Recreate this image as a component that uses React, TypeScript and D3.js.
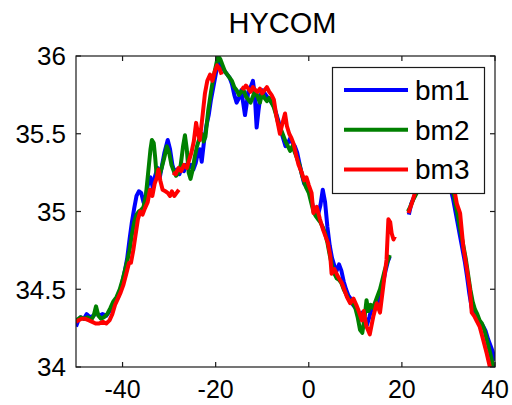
import React, { useEffect, useRef } from 'react';
import * as d3 from 'd3';

// longitude / value pairs, null = break in the track
const bm1 = [
  [-50, 34.26], [-49.5, 34.30], [-49, 34.32], [-48.3, 34.31], [-47.7, 34.34], [-47, 34.32], [-46.3, 34.33],
  [-45.6, 34.35], [-45, 34.33], [-44.3, 34.34], [-43.5, 34.33], [-43, 34.35], [-42.3, 34.38], [-41.5, 34.42],
  [-40.8, 34.46], [-40, 34.55], [-39.5, 34.62], [-39, 34.70], [-38.5, 34.82], [-38, 34.93], [-37.5, 35.02],
  [-37, 35.10], [-36.5, 35.13], [-36, 35.12], [-35.5, 35.06], [-35, 35.10], [-34.5, 35.18], [-34, 35.22],
  [-33.5, 35.15], [-33, 35.23], [-32.5, 35.28], [-32, 35.22], [-31.5, 35.30], [-31, 35.38], [-30.3, 35.46],
  [-29.8, 35.40], [-29.3, 35.30], [-28.8, 35.25], [-28.3, 35.27], [-27.8, 35.24], [-27.3, 35.28], [-26.8, 35.26],
  [-26.3, 35.30], [-25.8, 35.28], [-25.3, 35.30], [-24.8, 35.27], [-24.3, 35.31], [-23.8, 35.38], [-23.4, 35.40],
  [-23, 35.32], [-22.5, 35.45], [-22, 35.55], [-21.5, 35.62], [-21, 35.72], [-20.5, 35.80], [-20, 35.88],
  [-19.5, 35.96], [-19, 35.95], [-18.5, 35.92], [-18, 35.90], [-17.5, 35.88], [-17, 35.86], [-16.5, 35.82],
  [-16, 35.75], [-15.5, 35.70], [-15, 35.73], [-14.5, 35.78], [-14, 35.68], [-13.7, 35.62], [-13.3, 35.70],
  [-13, 35.77], [-12.5, 35.80], [-12, 35.84], [-11.6, 35.75], [-11.2, 35.54], [-10.8, 35.65], [-10.4, 35.74],
  [-10, 35.78], [-9.5, 35.76], [-9, 35.74], [-8.5, 35.72], [-8, 35.70], [-7.5, 35.68], [-7, 35.63],
  [-6.5, 35.58], [-6, 35.52], [-5.5, 35.47], [-5, 35.42], [-4.5, 35.44], [-4, 35.47], [-3.5, 35.44],
  [-3, 35.42], [-2.5, 35.38], [-2, 35.31], [-1.5, 35.24], [-1, 35.18], [-0.5, 35.16], [0, 35.14],
  [0.5, 35.08], [1, 35.02], [1.5, 35.00], [2, 34.98], [2.5, 35.04], [3, 35.14], [3.5, 35.06], [4, 34.90],
  [4.5, 34.78], [5, 34.70], [5.5, 34.65], [6, 34.62], [6.5, 34.66], [7, 34.62], [7.5, 34.55], [8, 34.50],
  [8.5, 34.46], [9, 34.44], [9.5, 34.40], [10, 34.38], [10.5, 34.36], [11, 34.32], [11.5, 34.35], [12, 34.30],
  [12.5, 34.27], [13, 34.32], [13.5, 34.38], [14, 34.36], [14.5, 34.40], [15, 34.42], [15.5, 34.47],
  [16, 34.55], [16.5, 34.62], [17, 34.68], [17.4, 34.71], null,
  [21.5, 34.98], [22, 35.05], [23, 35.12], [24.5, 35.18], [26, 35.25], [28, 35.28], [30, 35.2], [31, 35.08],
  [31.5, 35.0], [32, 34.92], [32.5, 34.84], [33, 34.76], [33.5, 34.68], [34, 34.58], [34.5, 34.47],
  [35, 34.38], [35.5, 34.34], [36, 34.32], [36.5, 34.30], [37, 34.28], [37.5, 34.26], [38, 34.23],
  [38.5, 34.18], [39, 34.14], [39.5, 34.10], [40, 34.04],
];

const bm2 = [
  [-50, 34.30], [-49.5, 34.31], [-49, 34.32], [-48.3, 34.31], [-47.5, 34.32], [-46.8, 34.30], [-46.2, 34.33],
  [-45.7, 34.39], [-45.2, 34.33], [-44.6, 34.31], [-44, 34.32], [-43.3, 34.34], [-42.6, 34.38], [-42, 34.42],
  [-41.3, 34.45], [-40.6, 34.50], [-40, 34.56], [-39.5, 34.62], [-39, 34.68], [-38.5, 34.75], [-38, 34.85],
  [-37.5, 34.93], [-37, 34.98], [-36.5, 35.00], [-36, 35.01], [-35.5, 35.03], [-35, 35.10], [-34.5, 35.25],
  [-34, 35.40], [-33.7, 35.46], [-33.3, 35.44], [-33, 35.35], [-32.7, 35.24], [-32.2, 35.22], [-31.6, 35.28],
  [-31, 35.35], [-30.5, 35.42], [-30, 35.38], [-29.5, 35.30], [-29, 35.26], [-28.5, 35.23], [-28, 35.25],
  [-27.5, 35.30], [-27, 35.42], [-26.6, 35.49], [-26.2, 35.40], [-25.8, 35.25], [-25.4, 35.21], [-25, 35.26],
  [-24.5, 35.35], [-24, 35.42], [-23.5, 35.47], [-23, 35.50], [-22.6, 35.45], [-22.2, 35.48], [-21.6, 35.65],
  [-21, 35.77], [-20.5, 35.86], [-20, 35.93], [-19.5, 36.0], [-19, 35.98], [-18.5, 35.94], [-18, 35.90],
  [-17.5, 35.88], [-17, 35.86], [-16.5, 35.84], [-16, 35.80], [-15.5, 35.78], [-15, 35.75], [-14.5, 35.77],
  [-14, 35.78], [-13.5, 35.74], [-13, 35.72], [-12.5, 35.70], [-12, 35.74], [-11.5, 35.78], [-11, 35.74],
  [-10.5, 35.70], [-10, 35.76], [-9.5, 35.73], [-9, 35.71], [-8.5, 35.73], [-8, 35.70], [-7.5, 35.67],
  [-7, 35.62], [-6.5, 35.56], [-6, 35.53], [-5.5, 35.49], [-5, 35.45], [-4.5, 35.42], [-4, 35.39],
  [-3.5, 35.42], [-3, 35.38], [-2.5, 35.34], [-2, 35.30], [-1.5, 35.24], [-1, 35.19], [-0.5, 35.15],
  [0, 35.12], [0.5, 35.06], [1, 35.00], [1.5, 34.97], [2, 34.95], [2.5, 34.93], [3, 34.90], [3.5, 34.86],
  [4, 34.80], [4.5, 34.72], [5, 34.65], [5.5, 34.60], [6, 34.57], [6.5, 34.56], [7, 34.54], [7.5, 34.50],
  [8, 34.47], [8.5, 34.44], [9, 34.42], [9.5, 34.41], [10, 34.38], [10.5, 34.32], [11, 34.24], [11.5, 34.22],
  [12, 34.32], [12.4, 34.43], [12.8, 34.36], [13.3, 34.40], [13.8, 34.38], [14.3, 34.42], [14.8, 34.46],
  [15.3, 34.50], [15.8, 34.56], [16.3, 34.62], [16.8, 34.67], [17.4, 34.72], null,
  [21.3, 35.0], [21.8, 35.03], [22.5, 35.08], [23.2, 35.12], [24.5, 35.2], [26, 35.24], [28, 35.3],
  [30, 35.22], [31.2, 35.10], [31.7, 35.02], [32.2, 34.94], [32.7, 34.86], [33.2, 34.78], [33.7, 34.70],
  [34.2, 34.60], [34.7, 34.50], [35.2, 34.42], [35.7, 34.37], [36.2, 34.34], [36.7, 34.30], [37.2, 34.28],
  [37.7, 34.24], [38.2, 34.18], [38.7, 34.12], [39.2, 34.06], [39.6, 34.0],
];

const bm3 = [
  [-50, 34.29], [-49.5, 34.30], [-48.8, 34.31], [-48, 34.31], [-47.2, 34.30], [-46.5, 34.29], [-45.8, 34.28],
  [-45, 34.28], [-44.2, 34.29], [-43.5, 34.28], [-42.8, 34.30], [-42.2, 34.34], [-41.6, 34.40], [-41, 34.44],
  [-40.4, 34.48], [-39.8, 34.53], [-39.2, 34.60], [-38.6, 34.67], [-38.2, 34.67], [-37.7, 34.75],
  [-37.2, 34.85], [-36.7, 34.95], [-36.2, 35.00], [-35.7, 34.98], [-35.2, 35.02], [-34.6, 35.06],
  [-34.1, 35.14], [-33.6, 35.10], [-33.1, 35.18], [-32.6, 35.22], [-32.3, 35.27], [-31.9, 35.20],
  [-31.4, 35.14], [-30.8, 35.13], [-30.3, 35.12], [-29.8, 35.10], [-29.4, 35.13], [-28.9, 35.10],
  [-28.4, 35.12], [-27.9, 35.14], null,
  [-29.2, 35.25], [-28.6, 35.24], [-28, 35.28], [-27.4, 35.26], [-26.8, 35.30], [-26.2, 35.28],
  [-25.7, 35.33], [-25.2, 35.38], [-24.7, 35.45], [-24.2, 35.57], [-23.8, 35.50], [-23.4, 35.46],
  [-22.8, 35.62], [-22.3, 35.76], [-21.8, 35.84], [-21.2, 35.88], [-20.7, 35.84], [-20.2, 35.90],
  [-19.7, 35.94], [-19.2, 35.92], [-18.7, 35.88], null,
  [-14.5, 35.80], [-14, 35.79], [-13.5, 35.81], [-13, 35.79], [-12.5, 35.77], [-12, 35.80], [-11.5, 35.78],
  [-11, 35.77], [-10.5, 35.79], [-10, 35.76], [-9.5, 35.78], [-9, 35.80], [-8.5, 35.77], [-8, 35.75],
  [-7.5, 35.72], [-7, 35.62], [-6.6, 35.56], [-6.2, 35.50], [-5.8, 35.55], [-5.1, 35.63], [-4.7, 35.55],
  [-4.2, 35.50], [-3.7, 35.47], [-3.2, 35.43], [-2.7, 35.36], [-2.2, 35.30], [-1.5, 35.25], [-1, 35.20],
  [-0.5, 35.22], [0, 35.17], [0.6, 35.12], [1, 34.99], [1.7, 35.03], [2.4, 34.95], [3.1, 34.88],
  [3.6, 34.84], [4.1, 34.80], [4.6, 34.72], [4.9, 34.60], [5.5, 34.63], [6.3, 34.58], [7.1, 34.54],
  [7.6, 34.50], [8.2, 34.45], [8.9, 34.41], [9.6, 34.44], [10.2, 34.40], [10.6, 34.37], [11.4, 34.30],
  [11.8, 34.36], [12.4, 34.26], [13.1, 34.21], [13.9, 34.33], [14.6, 34.41], [15.3, 34.35], [16, 34.52],
  [16.7, 34.69], [17.1, 34.95], [17.5, 34.93], [17.8, 34.86], [18.2, 34.82], [18.5, 34.84], null,
  [21.4, 34.99], [22.1, 35.05], [22.8, 35.12], [24, 35.2], [26, 35.26], [28, 35.3], [30, 35.25],
  [31.2, 35.15], [31.8, 35.05], [32.5, 34.99], [33.2, 34.77], [33.9, 34.64], [34.6, 34.50], [35, 34.35],
  [35.5, 34.33], [36, 34.30], [36.7, 34.26], [37.5, 34.17], [38.2, 34.09], [38.9, 34.0], [39.3, 33.96],
];

const seriesNames = ['bm1', 'bm2', 'bm3'];
const seriesColors = ['#0000ff', '#008000', '#ff0000'];
const xTicks = [-40, -20, 0, 20, 40];
const yTicks = [34, 34.5, 35, 35.5, 36];

const App = () => {
  const svgRef = useRef(null);

  useEffect(() => {
    const svg = d3.select(svgRef.current);
    svg.selectAll('*').remove();

    const W = 512, H = 405;
    const left = 76, right = 495, top = 56, bottom = 367;
    const font = '"Liberation Sans", Arial, Helvetica, sans-serif';

    svg.attr('width', W).attr('height', H);

    const x = d3.scaleLinear().domain([-50, 40]).range([left, right]);
    const y = d3.scaleLinear().domain([34, 36]).range([bottom, top]);

    svg.append('defs').append('clipPath').attr('id', 'plotclip')
      .append('rect').attr('x', left).attr('y', top)
      .attr('width', right - left).attr('height', bottom - top);

    const line = d3.line()
      .defined(d => d !== null)
      .x(d => x(d[0]))
      .y(d => y(d[1]));

    const g = svg.append('g').attr('clip-path', 'url(#plotclip)');
    [bm1, bm2, bm3].forEach((data, i) => {
      g.append('path')
        .datum(data)
        .attr('d', line)
        .attr('fill', 'none')
        .attr('stroke', seriesColors[i])
        .attr('stroke-width', 4)
        .attr('stroke-linejoin', 'round');
    });

    // axes box with inward ticks, MATLAB style
    const axisColor = '#1a1a1a';
    const tickLen = 5;
    svg.append('rect')
      .attr('x', left).attr('y', top)
      .attr('width', right - left).attr('height', bottom - top)
      .attr('fill', 'none').attr('stroke', axisColor).attr('stroke-width', 1.2);

    xTicks.forEach(t => {
      svg.append('line').attr('x1', x(t)).attr('x2', x(t))
        .attr('y1', bottom).attr('y2', bottom - tickLen)
        .attr('stroke', axisColor).attr('stroke-width', 1.2);
      svg.append('line').attr('x1', x(t)).attr('x2', x(t))
        .attr('y1', top).attr('y2', top + tickLen)
        .attr('stroke', axisColor).attr('stroke-width', 1.2);
      svg.append('text')
        .attr('x', x(t)).attr('y', 398)
        .attr('text-anchor', 'middle')
        .attr('font-family', font).attr('font-size', 25)
        .attr('fill', '#000')
        .text(String(t));
    });

    yTicks.forEach(t => {
      svg.append('line').attr('x1', left).attr('x2', left + tickLen)
        .attr('y1', y(t)).attr('y2', y(t))
        .attr('stroke', axisColor).attr('stroke-width', 1.2);
      svg.append('line').attr('x1', right).attr('x2', right - tickLen)
        .attr('y1', y(t)).attr('y2', y(t))
        .attr('stroke', axisColor).attr('stroke-width', 1.2);
      svg.append('text')
        .attr('x', 66).attr('y', y(t))
        .attr('dy', '0.36em')
        .attr('text-anchor', 'end')
        .attr('font-family', font).attr('font-size', 26)
        .attr('fill', '#000')
        .text(String(t));
    });

    // title
    svg.append('text')
      .attr('x', (left + right) / 2 - 3).attr('y', 33)
      .attr('text-anchor', 'middle')
      .attr('font-family', font).attr('font-size', 29)
      .attr('fill', '#000')
      .text('HYCOM');

    // legend
    const legend = svg.append('g');
    legend.append('rect')
      .attr('x', 332.5).attr('y', 67.5)
      .attr('width', 152).attr('height', 126)
      .attr('fill', '#fff').attr('stroke', axisColor).attr('stroke-width', 1.2);

    seriesNames.forEach((name, i) => {
      const ly = 90 + i * 39.7;
      legend.append('line')
        .attr('x1', 344).attr('x2', 408)
        .attr('y1', ly).attr('y2', ly)
        .attr('stroke', seriesColors[i]).attr('stroke-width', 4);
      legend.append('text')
        .attr('x', 415).attr('y', ly)
        .attr('dy', '0.36em')
        .attr('font-family', font).attr('font-size', 28)
        .attr('fill', '#000')
        .text(name);
    });
  }, []);

  return (
    <div style={{ position: 'absolute', left: 0, top: 0, width: 512, height: 405, background: '#fff' }}>
      <svg ref={svgRef} style={{ display: 'block' }}></svg>
    </div>
  );
};

export default App;
